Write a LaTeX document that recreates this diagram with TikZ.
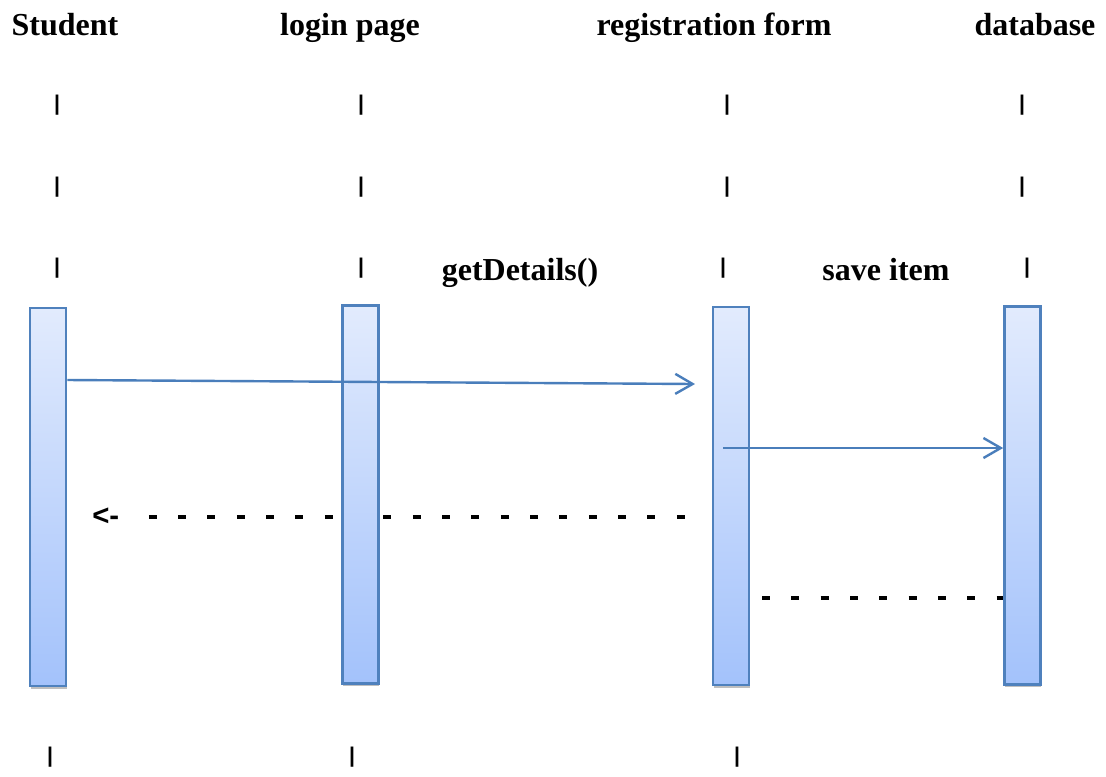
\documentclass[tikz,border=0pt]{standalone}
\usepackage{fontspec}
\setmainfont{Liberation Serif}
\newfontfamily\tickfont{Liberation Sans}
\usetikzlibrary{arrows.meta,shadows}

\definecolor{barTop}{HTML}{E2EBFD}
\definecolor{barBot}{HTML}{A3C2FB}
\definecolor{barEdge}{HTML}{4F81BD}
\definecolor{msgBlue}{HTML}{4A7EBB}

\tikzset{
  actor/.style={font=\fontsize{24}{28}\selectfont\bfseries, anchor=base, inner sep=0pt},
  lifebar/.style={draw=barEdge, line width=2pt, top color=barTop, bottom color=barBot,
    minimum width=27pt, minimum height=283.5pt, inner sep=0pt,
    drop shadow={shadow xshift=0.6pt, shadow yshift=-2pt, opacity=0.25, fill=black}},
  tick/.style={font=\tickfont\bfseries\fontsize{16}{18}\selectfont, inner sep=0pt},
  msg/.style={draw=msgBlue, line width=1.8pt, -{Straight Barb[length=13pt, width=15pt]}},
  reply/.style={line width=3pt, dash pattern=on 6pt off 16pt},
}

\begin{document}
\begin{tikzpicture}[x=0.75pt, y=-0.75pt]
  \useasboundingbox (0,0) rectangle (1106,776);

  % heads
  \node[actor] (student) at (65,35) {Student};
  \node[actor] (login) at (350,35) {login page};
  \node[actor] (regform) at (714,35) {registration form};
  \node[actor] (database) at (1035,35) {database};

  % lifeline ticks
  \foreach \ty/\tn in {105/a, 187/b} {
    \node[tick] (ts\tn) at (57,\ty) {|};
    \node[tick] (tl\tn) at (361,\ty) {|};
    \node[tick] (tr\tn) at (727,\ty) {|};
    \node[tick] (td\tn) at (1022,\ty) {|};
  }
  \node[tick] (tsc) at (57,268) {|};
  \node[tick] (tlc) at (361,268) {|};
  \node[tick] (trc) at (723,268) {|};
  \node[tick] (tdc) at (1027,268) {|};
  \node[tick] (tsd) at (50,757) {|};
  \node[tick] (tld) at (352,757) {|};
  \node[tick] (trd) at (737,757) {|};

  % message labels
  \node[actor] (getlbl) at (520,280) {getDetails()};
  \node[actor] (savelbl) at (886,280) {save item};

  % reply going back (behind the bars)
  \node[font=\tickfont\bfseries\fontsize{22}{24}\selectfont, inner sep=0pt, anchor=west] (back) at (92,517) {<-};
  \coordinate (r1) at (686,517);
  \draw[reply, shorten <=22pt] (back.east) -- (r1);

  % activation bars
  \node[lifebar] (studbar) at (48,497) {};
  \node[lifebar] (loginbar) at (360.5,494.5) {};
  \node[lifebar] (regbar) at (731,496) {};
  \node[lifebar] (dbbar) at (1022.5,495.5) {};

  % messages
  \coordinate (m1a) at (0,380);
  \coordinate (m1) at (695,384);
  \draw[msg] (studbar.east |- m1a) -- (m1);
  \coordinate (m2) at (723,448);
  \draw[msg] (m2) -- (dbbar.west |- m2);

  \coordinate (r2) at (762,598);
  \draw[reply] (r2) -- (dbbar.west |- r2);
\end{tikzpicture}
\end{document}
